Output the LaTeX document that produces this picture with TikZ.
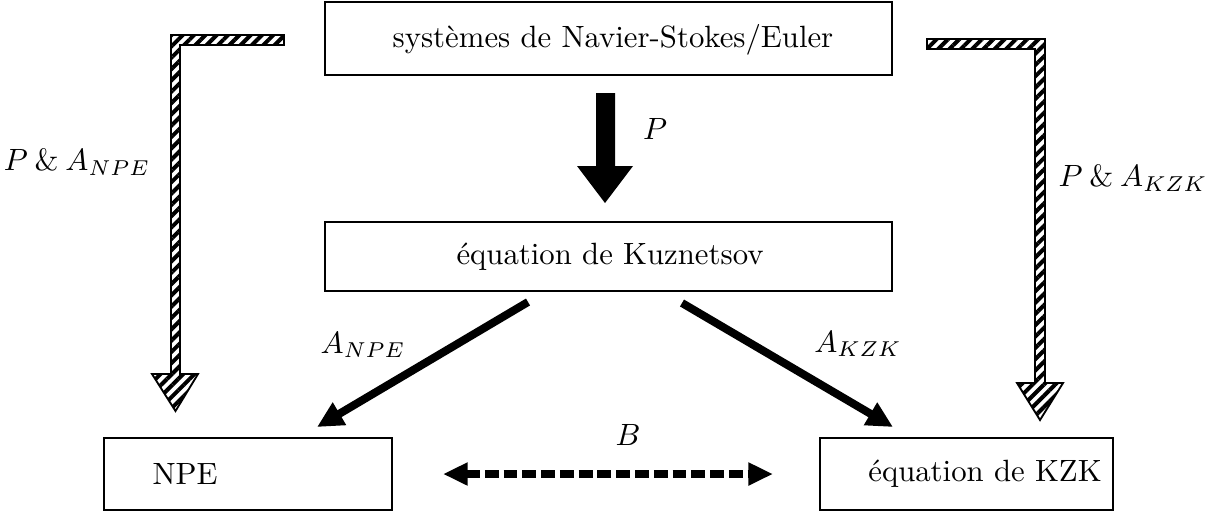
\documentclass[tikz,border=0pt]{standalone}
\usetikzlibrary{arrows.meta,patterns.meta}
\begin{document}
\begin{tikzpicture}[x=0.325pt,y=-0.325pt,
  box/.style={draw, line width=0.6pt, inner sep=0pt},
  hatch/.style={draw=black, line width=0.6pt, line join=miter,
    pattern={Lines[angle=45,distance=2.6pt,line width=1.3pt]}},
  thickarr/.style={line width=2.6pt, -{Triangle[length=8.5pt,width=8pt]}},
  dasharr/.style={line width=2.6pt, dash pattern=on 4.5pt off 1.6pt,
    {Triangle[length=8pt,width=7pt]}-{Triangle[length=8pt,width=7pt]}},
  lbl/.style={inner sep=0pt}]
\useasboundingbox (0,0) rectangle (1220,512);

% boxes
\node[box, minimum width=567*0.325pt, minimum height=73*0.325pt] (nse) at (608.5,38.5) {};
\node[lbl] (nset) at (613,40) {systèmes de Navier-Stokes/Euler};
\node[box, minimum width=567*0.325pt, minimum height=69*0.325pt] (kuz) at (608.5,256.5) {};
\node[lbl] (kuzt) at (610,257) {équation de Kuznetsov};
\node[box, minimum width=288*0.325pt, minimum height=72*0.325pt] (npe) at (248,474) {};
\node[lbl] (npet) at (185,474) {NPE};
\node[box, minimum width=293*0.325pt, minimum height=72*0.325pt] (kzk) at (966.5,474) {};
\node[lbl] (kzkt) at (985,474) {équation de KZK};

% big P arrow
\coordinate (p1) at (596,93);
\coordinate (p2) at (615,93);
\coordinate (ptip) at (605,203);
\fill (p1) -- (p2) -- (615,166) -- (633,166) -- (ptip) -- (577,166) -- (596,166) -- cycle;
\node[lbl] (plbl) at (655,129) {$P$};

% hatched arrows
\draw[hatch] (284,35) -- (171,35) -- (171,374) -- (152,374) -- (175.5,411)
  -- (198,374) -- (180,374) -- (180,45) -- (284,45) -- cycle;
\node[lbl] (lleft) at (77,162) {$P \mathbin{\&} A_{NPE}$};
\draw[hatch] (927,39) -- (1045,39) -- (1045,383) -- (1063,383) -- (1040,420)
  -- (1017,383) -- (1035,383) -- (1035,49) -- (927,49) -- cycle;
\node[lbl] (lright) at (1133,178) {$P \mathbin{\&} A_{KZK}$};

% A arrows
\coordinate (anpeS) at (528,302);
\coordinate (anpeE) at (317,427);
\draw[thickarr] (anpeS) -- (anpeE);
\node[lbl] (anpel) at (363,345) {$A_{NPE}$};
\coordinate (akzkS) at (682,303);
\coordinate (akzkE) at (893,427);
\draw[thickarr] (akzkS) -- (akzkE);
\node[lbl] (akzkl) at (858,344) {$A_{KZK}$};

% B arrow
\coordinate (bL) at (443,474);
\coordinate (bR) at (773,474);
\draw[dasharr] (bL) -- (bR);
\node[lbl] (blbl) at (628,435) {$B$};
\end{tikzpicture}
\end{document}
